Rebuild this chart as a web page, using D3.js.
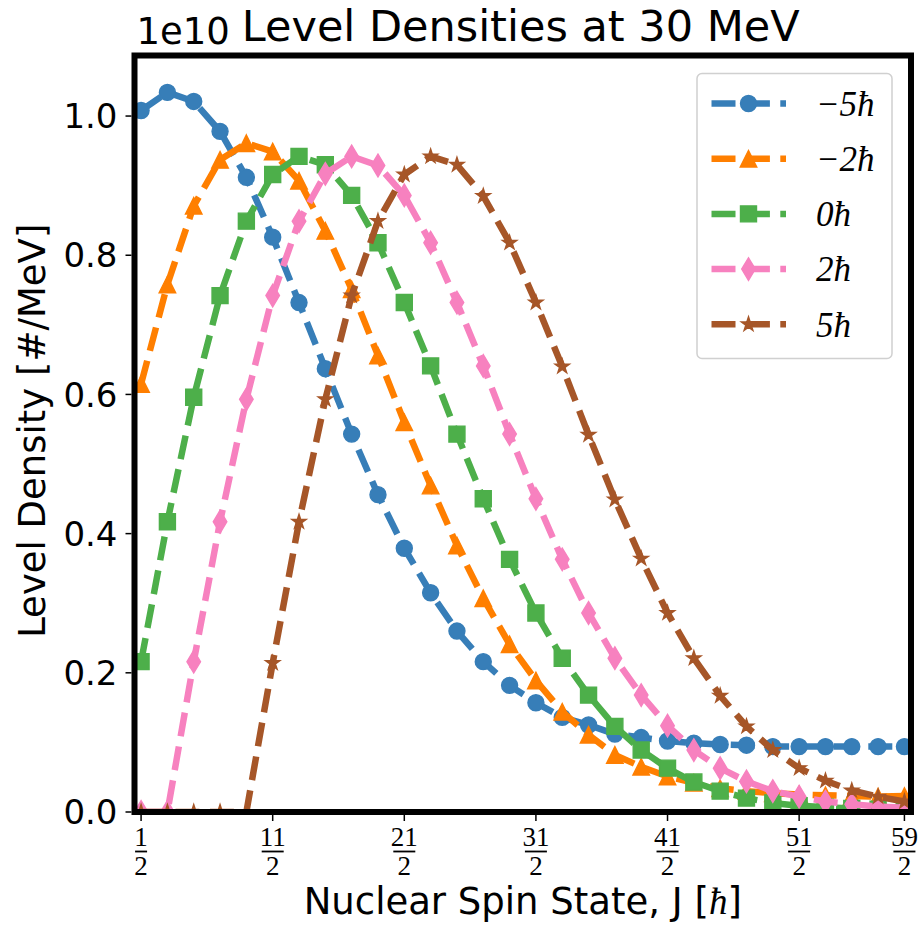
<!DOCTYPE html>
<html>
<head>
<meta charset="utf-8">
<script src="https://cdn.jsdelivr.net/npm/d3@7"></script>
<style>
  html, body { margin: 0; padding: 0; background: #fff; }
  svg { display: block; }
</style>
</head>
<body>
<div id="chart"></div>
<script>
// spin states J = 1/2 ... 59/2
const spins = d3.range(30).map(i => i + 0.5);

// level densities, in units of 1e10 per MeV
const seriesLabels = ["\u22125\u0127", "\u22122\u0127", "0\u0127", "2\u0127", "5\u0127"];
const densM5 = [1.008, 1.034, 1.021, 0.978, 0.912, 0.826, 0.732, 0.637, 0.543, 0.456,
                0.379, 0.315, 0.260, 0.216, 0.182, 0.157, 0.136, 0.125, 0.112, 0.107,
                0.102, 0.099, 0.097, 0.096, 0.094, 0.094, 0.094, 0.094, 0.094, 0.094];
const densM2 = [0.615, 0.758, 0.871, 0.937, 0.961, 0.949, 0.907, 0.835, 0.751, 0.656,
                0.560, 0.469, 0.383, 0.307, 0.241, 0.189, 0.144, 0.111, 0.082, 0.065,
                0.051, 0.042, 0.034, 0.030, 0.027, 0.025, 0.024, 0.023, 0.022, 0.023];
const dens0  = [0.216, 0.417, 0.596, 0.742, 0.849, 0.916, 0.942, 0.930, 0.886, 0.818,
                0.732, 0.641, 0.543, 0.450, 0.363, 0.286, 0.221, 0.168, 0.123, 0.089,
                0.063, 0.043, 0.030, 0.020, 0.013, 0.009, 0.007, 0.005, 0.004, 0.003];
const densP2 = [0.000, 0.000, 0.216, 0.417, 0.593, 0.742, 0.849, 0.917, 0.942, 0.929,
                0.886, 0.818, 0.732, 0.641, 0.543, 0.450, 0.363, 0.286, 0.221, 0.168,
                0.124, 0.089, 0.063, 0.044, 0.030, 0.022, 0.015, 0.011, 0.008, 0.006];
const densP5 = [0.000, 0.000, 0.000, 0.000, 0.000, 0.214, 0.417, 0.593, 0.742, 0.849,
                0.916, 0.942, 0.930, 0.885, 0.818, 0.732, 0.640, 0.542, 0.449, 0.364,
                0.286, 0.221, 0.167, 0.123, 0.089, 0.063, 0.045, 0.031, 0.022, 0.015];

const colors  = ["#377eb8", "#ff7f00", "#4daf4a", "#f781bf", "#a65628"];
const markers = ["circle", "triangle", "square", "thinDiamond", "star"];

const yTicks = [0, 0.2, 0.4, 0.6, 0.8, 1.0];
const xTicks = [0.5, 5.5, 10.5, 15.5, 20.5, 25.5, 29.5];

const series = [densM5, densM2, dens0, densP2, densP5].map((vals, k) => ({
  label: seriesLabels[k], color: colors[k], marker: markers[k],
  points: vals.map((v, i) => ({ j: spins[i], v }))
}));

const W = 921, H = 926;
const plot = { left: 134.5, right: 911, top: 55.5, bottom: 812 };

const x = d3.scaleLinear().domain([0.25, 29.75]).range([plot.left, plot.right]);
const y = d3.scaleLinear().domain([0, 1.087]).range([plot.bottom, plot.top]);

const svg = d3.select("#chart").append("svg")
  .attr("width", W).attr("height", H);

svg.append("defs").append("clipPath").attr("id", "plot-clip")
  .append("rect")
  .attr("x", plot.left).attr("y", plot.top)
  .attr("width", plot.right - plot.left).attr("height", plot.bottom - plot.top);

/** matplotlib-like marker paths, ms = marker size in px */
function markerPath(type, ms) {
  const h = ms / 2;
  switch (type) {
    case "circle":
      return `M${h},0A${h},${h} 0 1,1 ${-h},0A${h},${h} 0 1,1 ${h},0Z`;
    case "square":
      return `M${-h},${-h}H${h}V${h}H${-h}Z`;
    case "triangle":
      return `M0,${-h}L${h},${h}L${-h},${h}Z`;
    case "thinDiamond": {
      const dy = ms * 0.707, dx = ms * 0.707 * 0.6;
      return `M0,${-dy}L${dx},0L0,${dy}L${-dx},0Z`;
    }
    case "star": {
      const r = h, ri = h * 0.381966;
      const pts = d3.range(10).map(i => {
        const a = -Math.PI / 2 + i * Math.PI / 5, rr = i % 2 ? ri : r;
        return [rr * Math.cos(a), rr * Math.sin(a)];
      });
      return "M" + pts.map(p => p.join(",")).join("L") + "Z";
    }
  }
}
const markerSize = { circle: 16, triangle: 16.5, square: 16, thinDiamond: 16, star: 15 };

// data lines + markers, clipped to the axes box
const plotG = svg.append("g").attr("clip-path", "url(#plot-clip)");
const line = d3.line().x(d => x(d.j)).y(d => y(d.v));

series.forEach(s => {
  const g = plotG.append("g");
  g.append("path")
    .attr("d", line(s.points))
    .attr("fill", "none")
    .attr("stroke", s.color)
    .attr("stroke-width", 6.5)
    .attr("stroke-dasharray", "24,10.4")
    .attr("stroke-linejoin", "round");
  g.selectAll("path.mk").data(s.points).join("path")
    .attr("class", "mk")
    .attr("transform", d => `translate(${x(d.j)},${y(d.v)})`)
    .attr("d", markerPath(s.marker, markerSize[s.marker]))
    .attr("fill", s.color)
    .attr("stroke", s.color)
    .attr("stroke-width", 1.4);
});

// ticks
const tickG = svg.append("g").attr("stroke", "#000").attr("stroke-width", 1.5);
tickG.selectAll("line.yt").data(yTicks).join("line")
  .attr("x1", plot.left - 3).attr("x2", plot.left - 9)
  .attr("y1", d => y(d)).attr("y2", d => y(d));
tickG.selectAll("line.xt").data(xTicks).join("line")
  .attr("x1", d => x(d)).attr("x2", d => x(d))
  .attr("y1", plot.bottom + 3).attr("y2", plot.bottom + 9);

// y tick labels
svg.append("g").selectAll("text").data(yTicks).join("text")
  .attr("x", plot.left - 17)
  .attr("y", d => y(d))
  .attr("dy", "0.36em")
  .attr("text-anchor", "end")
  .attr("font-family", "DejaVu Sans")
  .attr("font-size", 34)
  .text(d3.format(".1f"));

// x tick labels as stacked fractions
const frac = svg.append("g").attr("font-family", "Liberation Serif").attr("font-size", 27);
xTicks.forEach(t => {
  const cx = x(t), num = String(Math.round(t * 2));
  frac.append("text").attr("x", cx).attr("y", 846).attr("text-anchor", "middle").text(num);
  frac.append("text").attr("x", cx).attr("y", 875).attr("text-anchor", "middle").text("2");
  const bw = num.length > 1 ? 22 : 12;
  frac.append("line")
    .attr("x1", cx - bw / 2).attr("x2", cx + bw / 2)
    .attr("y1", 851.5).attr("y2", 851.5)
    .attr("stroke", "#000").attr("stroke-width", 1.8);
});

// spines
svg.append("rect")
  .attr("x", plot.left).attr("y", plot.top)
  .attr("width", plot.right - plot.left).attr("height", plot.bottom - plot.top)
  .attr("fill", "none").attr("stroke", "#000").attr("stroke-width", 6);

// title, offset text, axis labels
svg.append("text")
  .attr("x", (plot.left + plot.right) / 2 - 2).attr("y", 41)
  .attr("text-anchor", "middle")
  .attr("font-family", "DejaVu Sans").attr("font-size", 43)
  .text("Level Densities at 30 MeV");

svg.append("text")
  .attr("x", plot.left + 2).attr("y", 44)
  .attr("font-family", "DejaVu Sans").attr("font-size", 37)
  .text("1e10");

svg.append("text")
  .attr("transform", `translate(45,${(plot.top + plot.bottom) / 2 - 3}) rotate(-90)`)
  .attr("text-anchor", "middle")
  .attr("font-family", "DejaVu Sans").attr("font-size", 37)
  .text("Level Density [#/MeV]");

const xl = svg.append("text")
  .attr("x", (plot.left + plot.right) / 2).attr("y", 914)
  .attr("text-anchor", "middle")
  .attr("font-family", "DejaVu Sans").attr("font-size", 37);
xl.append("tspan").text("Nuclear Spin State, J [");
xl.append("tspan").attr("font-family", "Liberation Serif").attr("font-style", "italic").text("\u0127");
xl.append("tspan").text("]");

// legend
const leg = svg.append("g");
leg.append("rect")
  .attr("x", 697).attr("y", 73.5).attr("width", 195).attr("height", 285)
  .attr("rx", 5).attr("ry", 5)
  .attr("fill", "#fff").attr("fill-opacity", 0.8)
  .attr("stroke", "#d0d0d0").attr("stroke-width", 1.5);

series.forEach((s, k) => {
  const cy = 103.5 + k * 55.2;
  const g = leg.append("g");
  g.append("line")
    .attr("x1", 711.5).attr("x2", 786).attr("y1", cy).attr("y2", cy)
    .attr("stroke", s.color).attr("stroke-width", 6.5)
    .attr("stroke-dasharray", "24,10.4");
  g.append("path")
    .attr("transform", `translate(748.5,${cy})`)
    .attr("d", markerPath(s.marker, markerSize[s.marker]))
    .attr("fill", s.color).attr("stroke", s.color).attr("stroke-width", 1.4);
  g.append("text")
    .attr("x", 816).attr("y", cy).attr("dy", "0.35em")
    .attr("font-family", "Liberation Serif").attr("font-style", "italic")
    .attr("font-size", 35)
    .text(s.label);
});
</script>
</body>
</html>
